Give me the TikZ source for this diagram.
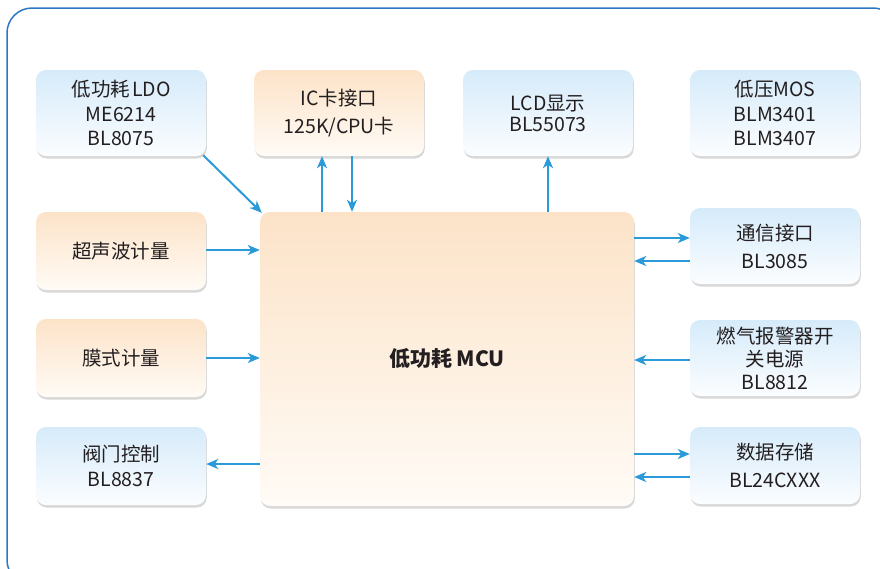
\documentclass[tikz,border=0pt]{standalone}
\usepackage{fontspec}
\setmainfont{Noto Sans CJK SC}
\usetikzlibrary{arrows.meta,shadows,calc}
\definecolor{arrowc}{HTML}{2A9AD8}
\definecolor{borderc}{HTML}{2B77C2}
\definecolor{txt}{HTML}{231F20}
\definecolor{bt}{HTML}{D6EBFA}
\definecolor{bb}{HTML}{FBFDFF}
\definecolor{ot}{HTML}{FCE3C8}
\definecolor{ob}{HTML}{FFFBF6}
\begin{document}
\begin{tikzpicture}[x=1pt,y=-1pt,
  box/.style={rounded corners=10pt, minimum width=170pt, align=center,
    font=\fontsize{19.5}{24.5}\selectfont, text=txt,
    drop shadow={shadow xshift=0.8pt, shadow yshift=-2.5pt, opacity=0.25, fill=black!60}},
  bluebox/.style={box, top color=bt, bottom color=bb},
  orangebox/.style={box, top color=ot, bottom color=ob},
  arr/.style={draw=arrowc, line width=2pt, -{Stealth[length=12pt,width=10pt,inset=3.5pt]}},
  border/.style={draw=borderc, line width=1.5pt, rounded corners=25pt}]
\useasboundingbox (0,0) rectangle (880,568);
\fill[white] (0,0) rectangle (880,568);
\draw[border] (7,8) rectangle (898,585);

\node[bluebox, minimum height=86pt] (ldo) at (121,113) {低功耗\hspace{2pt}LDO\\ME6214\\BL8075};
\node[orangebox, minimum height=86pt] (ic) at (339,113) {IC卡接口\\[3.5pt]125K/CPU卡};
\node[bluebox, minimum height=86pt] (lcd) at (548,113) {LCD显示\\[-3.5pt]BL55073};
\node[bluebox, minimum height=86pt] (mos) at (775,113) {低压MOS\\BLM3401\\BLM3407};
\node[orangebox, minimum height=78pt] (ultra) at (121,251) {超声波计量};
\node[bluebox, minimum height=76pt] (com) at (775,246) {通信接口\\[3.5pt]BL3085};
\node[orangebox, minimum height=78pt] (film) at (121,358) {膜式计量};
\node[bluebox, minimum height=76pt] (gas) at (775,358) {燃气报警器开\\[-1.5pt]关电源\\[-1.5pt]BL8812};
\node[bluebox, minimum height=78pt] (valve) at (121,466) {阀门控制\\BL8837};
\node[bluebox, minimum height=77pt] (data) at (775,465.5) {数据存储\\[3.5pt]BL24CXXX};
\node[orangebox, minimum width=374pt, minimum height=294pt, font=\fontsize{21}{24}\selectfont\bfseries] (mcu) at (447,359) {低功耗 MCU};

\draw[arr] ([shift={(-3,-1)}]ldo.south east) -- ([shift={(2,1)}]mcu.north west);
\draw[arr] (mcu.north -| 322,0) -- (ic.south -| 322,0);
\draw[arr] (ic.south -| 352,0) -- (mcu.north -| 352,0);
\draw[arr] (mcu.north -| lcd.south) -- (lcd.south);
\draw[arr] (ultra.east |- 0,250) -- (mcu.west |- 0,250);
\draw[arr] (film.east |- 0,358) -- (mcu.west |- 0,358);
\draw[arr] (mcu.west |- 0,464) -- (valve.east |- 0,464);
\draw[arr] (mcu.east |- 0,238) -- (com.west |- 0,238);
\draw[arr] (com.west |- 0,261) -- (mcu.east |- 0,261);
\draw[arr] (gas.west |- 0,360) -- (mcu.east |- 0,360);
\draw[arr] (mcu.east |- 0,454) -- (data.west |- 0,454);
\draw[arr] (data.west |- 0,477) -- (mcu.east |- 0,477);
\end{tikzpicture}
\end{document}
